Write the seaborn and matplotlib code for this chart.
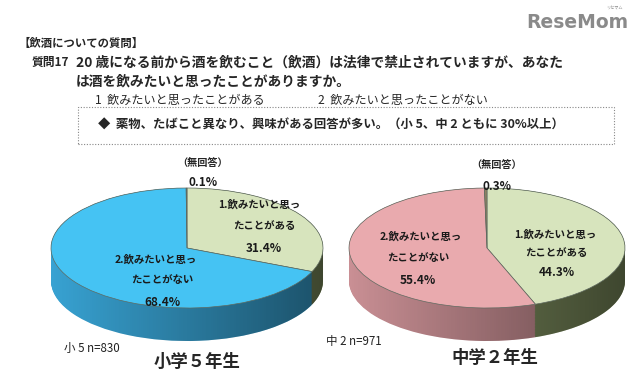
import numpy as np
import matplotlib
matplotlib.use('Agg')
import matplotlib.pyplot as plt
import matplotlib.patches as mpatches
from matplotlib.path import Path
import seaborn as sns

sns.set_style('white')
plt.rcParams['font.family'] = ['Noto Sans CJK JP', 'DejaVu Sans']

W, H = 640, 389

# data
groups = ['小学５年生', '中学２年生']
sample_labels = ['小 5 n=830', '中 2 n=971']
answer_line1 = ['1.飲みたいと思っ', '2.飲みたいと思っ']
answer_line2 = ['たことがある', 'たことがない']
no_answer = '（無回答）'
shares_g5 = [31.4, 68.4, 0.1]   # ある, ない, 無回答
shares_j2 = [44.3, 55.4, 0.3]

top_colors = [['#d7e4bd', '#45c3f3', '#3b6f8c'],
              ['#d7e4bd', '#e9aaae', '#8c8262']]
wall_colors = [['#7d8d5e', '#38a2d2', '#2a5f7a'],
               ['#7d8d5e', '#c98f94', '#6f6650']]


def fx(x):
    return x / W


def fy(y):
    return 1 - y / H


def ftext(x, y, s, **kw):
    kw.setdefault('ha', 'center')
    kw.setdefault('va', 'center')
    fig.text(fx(x), fy(y), s, **kw)


def draw_pie(cx, rx, vals, tops, walls, depth=0.55, top_px=188, bot_px=341):
    ax = fig.add_axes([fx(cx - rx), fy(bot_px), 2 * rx / W, (bot_px - top_px) / H])
    # side wall: stack of shifted pies
    for off in np.linspace(depth, 0, 45):
        ax.pie(vals, colors=walls, startangle=90, counterclock=False,
               center=(0, -off), radius=1, wedgeprops=dict(linewidth=0))
    # shading over the wall
    t1 = np.linspace(0, np.pi, 120)
    t2 = np.linspace(np.pi, 2 * np.pi, 120)
    verts = np.concatenate([np.c_[np.cos(t1), np.sin(t1)],
                            np.c_[np.cos(t2), np.sin(t2) - depth]])
    clip = mpatches.PathPatch(Path(verts, closed=False), transform=ax.transData,
                              facecolor='none', edgecolor='none')
    ax.add_patch(clip)
    grad = np.zeros((2, 200, 4))
    grad[..., 3] = np.linspace(0.0, 0.5, 200)
    im = ax.imshow(grad, extent=[-1, 1, -1 - depth, 1], aspect='auto', zorder=2)
    im.set_clip_path(clip)
    wedges, _ = ax.pie(vals, colors=tops, startangle=90, counterclock=False,
                       radius=1, wedgeprops=dict(edgecolor='#5f6a60', linewidth=0.5))
    for w in wedges:
        w.set_zorder(3)
    ax.set_aspect('auto')
    ax.set_xlim(-1, 1)
    ax.set_ylim(-1 - depth, 1)
    ax.axis('off')
    return ax


fig = plt.figure(figsize=(W / 100, H / 100), dpi=100)
fig.patch.set_facecolor('white')

# header
ftext(577, 22, 'ReseMom', fontsize=13.5, fontweight='bold', color='#8a8a8a', family='DejaVu Sans')
ftext(614, 8, 'リセマム', fontsize=3, color='#8a8a8a')
ftext(18, 43, '【飲酒についての質問】', ha='left', fontsize=8.2, fontweight='bold')
ftext(32, 62, '質問17', ha='left', fontsize=8.5, fontweight='bold')
ftext(76, 62, '20 歳になる前から酒を飲むこと（飲酒）は法律で禁止されていますが、あなた',
      ha='left', fontsize=9.9, fontweight='bold')
ftext(76, 81, 'は酒を飲みたいと思ったことがありますか。', ha='left', fontsize=9.9, fontweight='bold')
ftext(95, 100, '1  飲みたいと思ったことがある', ha='left', fontsize=8.7)
ftext(318, 100, '2  飲みたいと思ったことがない', ha='left', fontsize=8.7)
fig.patches.append(mpatches.Rectangle((fx(78), fy(144)), (614 - 78) / W, (144 - 107) / H,
                                      transform=fig.transFigure, fill=False,
                                      edgecolor='#888888', linestyle=(0, (1, 1.5)), linewidth=0.8))
ftext(98, 125, '◆  薬物、たばこと異なり、興味がある回答が多い。（小 5、中 2 ともに 30%以上）',
      ha='left', fontsize=8.9, fontweight='bold')

# pies
draw_pie(187, 136, shares_g5, top_colors[0], wall_colors[0])
draw_pie(487, 138, shares_j2, top_colors[1], wall_colors[1])

lab = dict(fontsize=7.5, fontweight='bold', color='#1a1a1a')
pct = dict(fontsize=8.5, fontweight='bold', color='#1a1a1a')

# left pie labels
ftext(203, 163, no_answer, fontsize=7.3, fontweight='bold')
ftext(203, 183, f'{shares_g5[2]}%', **pct)
ftext(259, 205, answer_line1[0], **lab)
ftext(264, 226, answer_line2[0], **lab)
ftext(264, 248, f'{shares_g5[0]}%', **pct)
ftext(156, 260, answer_line1[1], **lab)
ftext(162, 280, answer_line2[1], **lab)
ftext(162, 302, f'{shares_g5[1]}%', **pct)
ftext(64, 348, sample_labels[0], ha='left', fontsize=8.3, color='#222222')
ftext(197, 362, groups[0], fontsize=12.5, fontweight='bold')

# right pie labels
ftext(497, 165, no_answer, fontsize=7.3, fontweight='bold')
ftext(497, 187, f'{shares_j2[2]}%', **pct)
ftext(555, 235, answer_line1[0], **lab)
ftext(556, 253, answer_line2[0], **lab)
ftext(557, 273, f'{shares_j2[0]}%', **pct)
ftext(421, 237, answer_line1[1], **lab)
ftext(418, 258, answer_line2[1], **lab)
ftext(418, 280, f'{shares_j2[1]}%', **pct)
ftext(326, 342, sample_labels[1], ha='left', fontsize=8.3, color='#222222')
ftext(495, 358, groups[1], fontsize=12.5, fontweight='bold')

fig.savefig('out.png', dpi=100)
